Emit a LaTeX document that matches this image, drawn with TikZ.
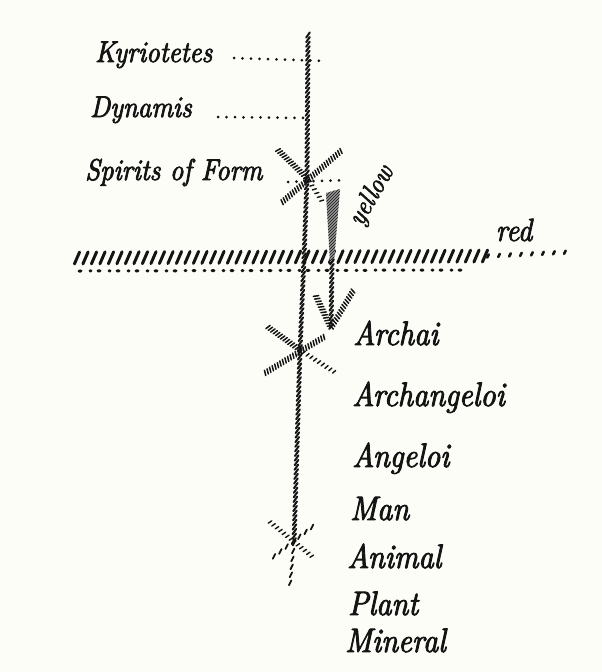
\documentclass[tikz,border=0pt]{standalone}
\usepackage{fontspec}
\newfontfamily\hand{lmroman10-italic.otf}[FakeBold=2.5, FakeStretch=0.88]
\usetikzlibrary{decorations.markings,patterns}
\definecolor{paper}{RGB}{253,253,248}
\definecolor{ink}{RGB}{20,20,20}
\begin{document}
\begin{tikzpicture}[x=1pt,y=-1pt,
  lbl/.style={font=\fontsize{30}{33}\selectfont\hand, anchor=base west, inner sep=0pt, text=ink},
  lblr/.style={font=\fontsize{34}{37}\selectfont\hand, anchor=base west, inner sep=0pt, text=ink},
  small/.style={font=\fontsize{27}{30}\selectfont\hand, inner sep=0pt, text=ink},
  redlbl/.style={font=\fontsize{32}{34}\selectfont\hand, inner sep=0pt, text=ink},
  dotline/.style={draw=ink, line width=3pt, line cap=round, dash pattern=on 0pt off 8.5pt},
  lowdots/.style={draw=ink, line width=3pt, line cap=round, dash pattern=on 2pt off 9pt on 1pt off 7pt},
  vhatch/.style={decorate, decoration={markings, mark=between positions 0 and 1 step 4.6pt with {\pgftransformresetnontranslations \draw[ink, line width=2pt, line cap=round] (-1.8pt,-2.6pt)--(1.8pt,2.6pt);}}},
  sparse/.style={decorate, decoration={markings, mark=between positions 0 and 1 step 8pt with {\pgftransformresetnontranslations \draw[ink, line width=1.8pt, line cap=round] (-1.2pt,-2.4pt)--(1.2pt,2.4pt);}}},
  shatch/.style={decorate, decoration={markings, mark=between positions 0 and 1 step 3pt with {\draw[ink, line width=1.5pt, line cap=round] (-0.8pt,-2.6pt)--(0.8pt,2.6pt);}}},
  shatchthin/.style={decorate, decoration={markings, mark=between positions 0 and 1 step 4.5pt with {\draw[ink, line width=1.4pt, line cap=round] (-0.6pt,-2pt)--(0.6pt,2pt);}}},
  redband/.style={decorate, decoration={markings, mark=between positions 0 and 1 step 8.5pt with {\pgftransformresetnontranslations \draw[ink, line width=3pt, line cap=round] (-2.6pt,-6pt)--(2.6pt,6pt);}}},
  redtail/.style={decorate, decoration={markings, mark=between positions 0 and 1 step 11pt with {\pgftransformresetnontranslations \draw[ink, line width=2.6pt, line cap=round] (-0.8pt,-1.6pt)--(0.8pt,1.6pt);}}}
]
\path[fill=paper] (0,0) rectangle (602,672);

% coordinates of the main axis
\coordinate (vtop) at (308,35);
\coordinate (s1) at (307,178);
\coordinate (rcross) at (304,258);
\coordinate (s2) at (300,350);
\coordinate (s3) at (294,543);
\coordinate (vbot) at (290,584);

% labels
\node[lbl] (kyr) at (95,62) {Kyriotetes};
\node[lbl] (dyn) at (90,117) {Dynamis};
\node[lbl] (sof) at (85,180) {Spirits of Form};
\node[lblr] (arc) at (353,345) {Archai};
\node[lblr] (archa) at (352,406) {Archangeloi};
\node[lblr] (ang) at (352,467) {Angeloi};
\node[lblr] (man) at (350,520) {Man};
\node[lblr] (ani) at (347,568) {Animal};
\node[lblr] (pla) at (348,615) {Plant};
\node[lblr] (min) at (345,652) {Mineral};
\node[small, rotate=60] (yel) at (372,196) {yellow};
\node[redlbl] (red) at (514,230) {red};

% dotted leaders
\coordinate (kyrst) at (234,58);
\coordinate (kyrend) at (326,61);
\coordinate (dynst) at (218,117);
\coordinate (dynend) at (304,118);
\draw[dotline] (kyrst) -- (kyrend);
\draw[dotline] (dynst) -- (dynend);

% main vertical axis
\draw[vhatch] (vtop) -- (s1) -- (rcross) -- (s2) -- (s3);
\draw[sparse] (s3) -- (vbot);

% star 1
\coordinate (a1) at (278,150); \coordinate (b1) at (322,201);
\coordinate (c1) at (341,151); \coordinate (d1) at (280,204);
\coordinate (e1) at (288,182); \coordinate (f1) at (347,180);
\draw[shatch] (a1) -- (s1);
\draw[shatchthin] (s1) -- (b1);
\draw[shatch] (c1) -- (d1);
\draw[dotline] (e1) -- (f1);

% star 2
\coordinate (a2) at (268,327); \coordinate (b2) at (336,373);
\coordinate (c2) at (324,337); \coordinate (d2) at (265,373);
\draw[shatch] (a2) -- (s2);
\draw[shatchthin] (s2) -- (b2);
\draw[shatch] (c2) -- (d2);

% star 3
\coordinate (a3) at (270,522); \coordinate (b3) at (314,558);
\coordinate (c3) at (312,527); \coordinate (d3) at (268,561);
\draw[shatchthin] (a3) -- (b3);
\draw[sparse] (c3) -- (d3);

% red band
\coordinate (rl) at (77,258); \coordinate (rm) at (488,256); \coordinate (rr) at (570,252);
\draw[redband] (rl) -- (rm);
\draw[redtail] (rm) -- (rr);
\coordinate (ll) at (79,271); \coordinate (lr) at (466,270);
\draw[lowdots] (ll) -- (lr);

% yellow arrow
\coordinate (ymid) at (332,262);
\coordinate (ytip) at (331,328);
\coordinate (yl) at (316,296);
\coordinate (yr) at (353,291);
\fill[ink!45] (326,193) -- (340,189) -- (334,262) -- (330,262) -- cycle;
\fill[pattern=north east lines, pattern color=ink] (326,193) -- (340,189) -- (334,262) -- (330,262) -- cycle;
\draw[vhatch] (ymid) -- (ytip);
\draw[shatch] (yl) -- (ytip);
\draw[shatch] (yr) -- (ytip);
\end{tikzpicture}
\end{document}
